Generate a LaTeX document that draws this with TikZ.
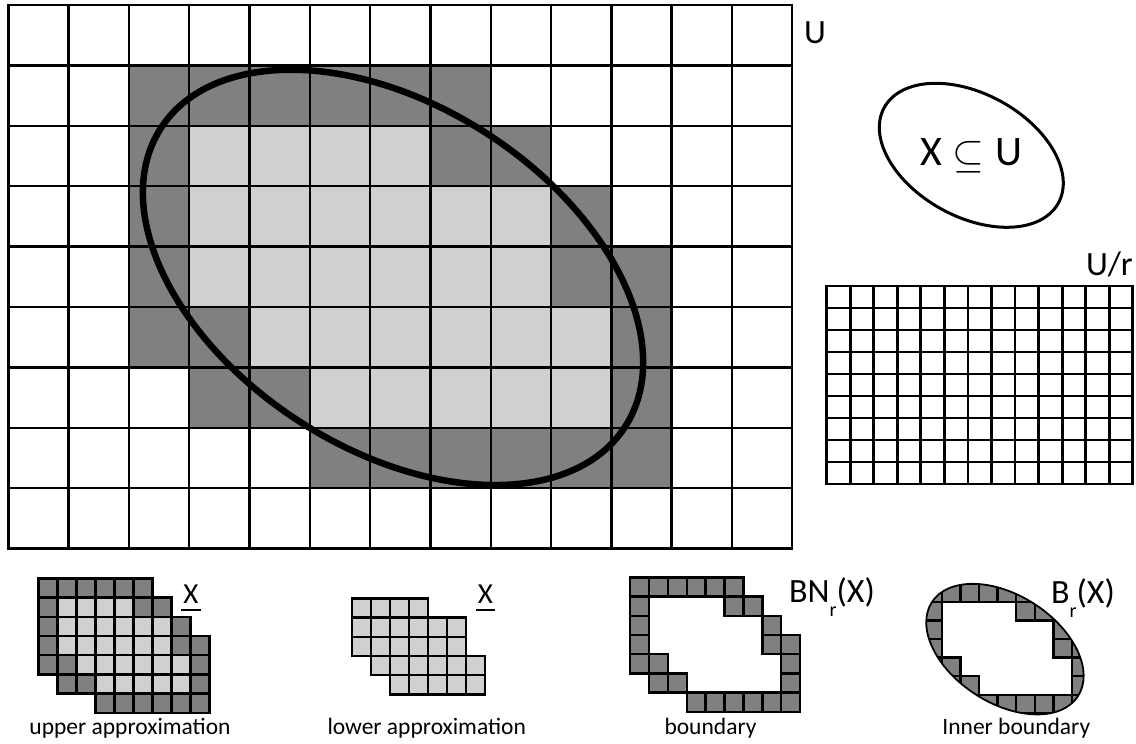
\documentclass[tikz,border=0pt]{standalone}
\usepackage{fontspec}
\setmainfont{Carlito}
\definecolor{dgray}{RGB}{128,128,128}
\definecolor{lgray}{RGB}{208,207,209}
\newcommand\darkcells[1]{\foreach \r/\a/\b in {1/2/7,2/2/2,2/7/8,3/2/2,3/9/9,4/2/2,4/9/10,5/2/3,5/10/10,6/3/4,6/10/10,7/5/10}{\foreach \c in {\a,...,\b}{\path[#1] (\c,\r) rectangle ++(1,1);}}}
\newcommand\lightcells[1]{\foreach \r/\a/\b in {2/3/6,3/3/8,4/3/8,5/4/9,6/5/9}{\foreach \c in {\a,...,\b}{\path[#1] (\c,\r) rectangle ++(1,1);}}}
\newcommand\lowr{\raisebox{-14pt}{\fontsize{20}{20}\selectfont r}}
\newcommand\bigsubseteq{\raisebox{-2pt}{\scalebox{4.1}{\fontsize{10}{12}\selectfont$\subseteq$}}}
\begin{document}
\begin{tikzpicture}[x=1pt,y=-1pt,
  gl/.style={line width=2.4pt},
  cellbox/.style={draw,line width=2.4pt},
  lbl/.style={font=\fontsize{23.5}{28}\selectfont, inner sep=0pt},
  xlbl/.style={font=\fontsize{29}{32}\selectfont, inner sep=0pt},
  biglbl/.style={font=\fontsize{34}{38}\selectfont, inner sep=0pt}]
\useasboundingbox (0,0) rectangle (1136,744);
\fill[white] (0,0) rectangle (1136,744);

% main universe grid
\begin{scope}[shift={(8.3,5)}, x=60.3pt, y=-60.4pt]
  \fill[white] (0,0) rectangle (13,9);
  \darkcells{fill=dgray}
  \lightcells{fill=lgray}
  \foreach \c in {1,...,12} \draw[gl] (\c,0) -- (\c,9);
  \foreach \r in {1,...,8} \draw[gl] (0,\r) -- (13,\r);
  \draw[gl] (0,0) rectangle (13,9);
  \draw[line width=6.5pt, rotate around={-32.7:(6.38,4.51)}] (6.38,4.51) ellipse [x radius=4.577, y radius=2.844];
\end{scope}

% X subset U
\draw[line width=3pt, rotate around={-28.7:(971.3,155.3)}] (971.3,155.3) ellipse [x radius=99.3, y radius=61.5];
\node[font=\fontsize{42}{48}\selectfont, inner sep=0pt] (lX) at (971.5,156) {X\hspace{11pt}\bigsubseteq\hspace{11pt}U};

% U/r grid
\begin{scope}[shift={(826.7,286)}, x=23.54pt, y=-22pt]
  \fill[white] (0,0) rectangle (13,9);
  \foreach \c in {1,...,12} \draw[line width=2.8pt] (\c,0) -- (\c,9);
  \foreach \r in {1,...,8} \draw[line width=2.8pt] (0,\r) -- (13,\r);
  \draw[line width=2.8pt] (0,0) rectangle (13,9);
\end{scope}

\node[biglbl, anchor=base west] (lU) at (804,43) {U};
\node[biglbl, anchor=base east] (lUr) at (1133,275) {U/r};

% upper approximation
\begin{scope}[shift={(0.3,559.1)}, x=19pt, y=-19.2pt]
  \darkcells{fill=dgray,cellbox}
  \lightcells{fill=lgray,cellbox}
\end{scope}
\node[xlbl, anchor=base] (ux1) at (190.8,603) {X};
\draw[line width=2.2pt] ([xshift=-2pt,yshift=-7pt]ux1.base west) -- ([xshift=2pt,yshift=-7pt]ux1.base east);

% lower approximation
\begin{scope}[shift={(294.7,559.9)}, x=19pt, y=-19.2pt]
  \lightcells{fill=lgray,cellbox}
\end{scope}
\node[xlbl, anchor=base] (ux2) at (485.5,603) {X};
\draw[line width=2.2pt] ([xshift=-2pt,yshift=-7pt]ux2.base west) -- ([xshift=2pt,yshift=-7pt]ux2.base east);

% boundary
\begin{scope}[shift={(592.2,558.1)}, x=18.9pt, y=-19.2pt]
  \darkcells{fill=dgray,cellbox}
\end{scope}
\node[biglbl, anchor=base west] (lBN) at (789,602) {BN\lowr(X)};

% inner boundary
\begin{scope}[shift={(885.9,564.5)}, x=18.6pt, y=-18.6pt]
  \begin{scope}
    \clip[rotate around={-32.7:(6.4,4.55)}] (6.4,4.55) ellipse [x radius=4.67, y radius=2.90];
    \darkcells{fill=dgray,cellbox}
  \end{scope}
  \draw[line width=1.8pt, rotate around={-32.7:(6.4,4.55)}] (6.4,4.55) ellipse [x radius=4.67, y radius=2.90];
\end{scope}
\node[biglbl, anchor=base west] (lB) at (1051,603) {B\lowr(X)};

% captions
\node[lbl, anchor=base] (c1) at (130,734) {upper approximation};
\node[lbl, anchor=base] (c2) at (426.7,734) {lower approximation};
\node[lbl, anchor=base] (c3) at (710.5,734) {boundary};
\node[lbl, anchor=base] (c4) at (1016.3,734) {Inner boundary};
\end{tikzpicture}
\end{document}
